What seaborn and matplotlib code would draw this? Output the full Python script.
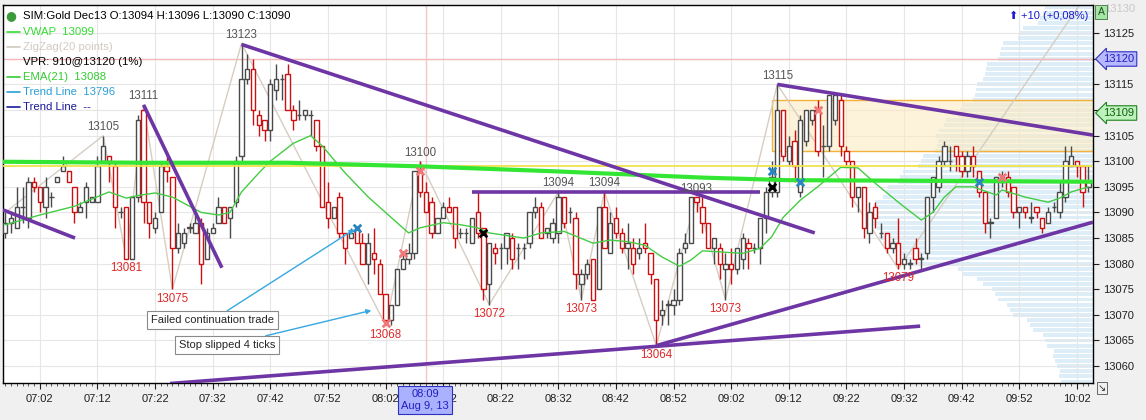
import numpy as np
import pandas as pd
import seaborn as sns
import matplotlib.pyplot as plt
from matplotlib.lines import Line2D
from matplotlib.patches import Rectangle
from matplotlib.ticker import FixedLocator, MultipleLocator, FuncFormatter


def mins(t):
    # minutes after 07:02 (first labelled tick)
    p = [int(v) for v in t.split(':')]
    s = p[2] if len(p) > 2 else 0
    return p[0] * 60 + p[1] + s / 60.0 - (7 * 60 + 2)


# ---- 1-minute bars, 06:56 .. 10:04 ----
first_bar = "06:56"
opens = [13086, 13088, 13087, 13091, 13089, 13096, 13095, 13091, 13093, 13096,
         13098, 13098, 13095, 13090, 13092, 13092, 13092, 13100, 13101, 13099,
         13090, 13091, 13081, 13093, 13110, 13092, 13087, 13090, 13099, 13097,
         13083, 13084, 13087, 13086, 13088, 13081, 13086, 13088, 13091, 13089,
         13092, 13101, 13116, 13118, 13109, 13108, 13106, 13114, 13116, 13117,
         13110, 13109, 13109, 13109, 13108, 13103, 13092, 13089, 13093, 13086,
         13085, 13087, 13084, 13080, 13082, 13080, 13074, 13069, 13072, 13079,
         13081, 13082, 13098, 13094, 13092, 13086, 13089, 13091, 13091, 13086,
         13086, 13084, 13090, 13087, 13076, 13083, 13083, 13083, 13085, 13083,
         13083, 13084, 13090, 13091, 13086, 13085, 13086, 13093, 13090, 13089,
         13076, 13078, 13081, 13075, 13091, 13082, 13089, 13086, 13083, 13083,
         13082, 13084, 13082, 13077, 13070, 13072, 13072, 13073, 13083, 13084,
         13093, 13091, 13088, 13083, 13083, 13079, 13080, 13079, 13081, 13084,
         13083, 13083, 13089, 13094, 13094, 13110, 13100, 13104, 13094, 13104,
         13108, 13110, 13103, 13103, 13108, 13112, 13102, 13100, 13093, 13095,
         13086, 13091, 13086, 13086, 13083, 13084, 13080, 13080, 13083, 13081,
         13082, 13093, 13095, 13100, 13100, 13103, 13101, 13098, 13101, 13098,
         13094, 13088, 13089, 13096, 13097, 13095, 13090, 13091, 13089, 13091,
         13089, 13088, 13091, 13090, 13093, 13099, 13100, 13099, 13095]
highs = [13090, 13090, 13095, 13095, 13097, 13097, 13095, 13097, 13094, 13097,
         13101, 13098, 13095, 13092, 13096, 13093, 13101, 13105, 13101, 13100,
         13091, 13091, 13093, 13109, 13111, 13092, 13090, 13100, 13101, 13097,
         13088, 13087, 13088, 13090, 13089, 13087, 13088, 13093, 13091, 13091,
         13101, 13123, 13121, 13120, 13110, 13108, 13116, 13119, 13117, 13119,
         13111, 13112, 13110, 13110, 13108, 13103, 13096, 13091, 13094, 13086,
         13087, 13087, 13086, 13086, 13087, 13081, 13074, 13072, 13079, 13082,
         13084, 13098, 13100, 13096, 13093, 13089, 13092, 13093, 13091, 13087,
         13087, 13089, 13094, 13087, 13084, 13084, 13084, 13086, 13086, 13084,
         13084, 13090, 13093, 13092, 13087, 13089, 13094, 13093, 13091, 13090,
         13079, 13081, 13081, 13091, 13094, 13090, 13091, 13087, 13088, 13085,
         13085, 13088, 13082, 13077, 13073, 13073, 13075, 13083, 13086, 13093,
         13093, 13093, 13088, 13085, 13084, 13082, 13083, 13083, 13086, 13085,
         13084, 13089, 13095, 13100, 13115, 13110, 13105, 13106, 13109, 13110,
         13110, 13112, 13107, 13113, 13113, 13113, 13103, 13100, 13095, 13095,
         13092, 13092, 13088, 13086, 13085, 13089, 13082, 13081, 13085, 13082,
         13093, 13097, 13101, 13104, 13103, 13103, 13102, 13102, 13103, 13098,
         13094, 13089, 13097, 13098, 13098, 13095, 13091, 13091, 13092, 13091,
         13089, 13091, 13092, 13096, 13103, 13103, 13100, 13099, 13099]
lows = [13085, 13086, 13087, 13088, 13087, 13094, 13090, 13089, 13091, 13096,
        13098, 13096, 13088, 13090, 13089, 13092, 13092, 13100, 13096, 13087,
        13089, 13081, 13081, 13092, 13088, 13085, 13086, 13090, 13096, 13075,
        13082, 13083, 13086, 13086, 13076, 13081, 13086, 13088, 13088, 13085,
        13091, 13100, 13115, 13107, 13105, 13104, 13104, 13112, 13112, 13110,
        13106, 13108, 13108, 13105, 13102, 13091, 13087, 13089, 13085, 13080,
        13085, 13084, 13080, 13076, 13078, 13074, 13068, 13068, 13072, 13079,
        13080, 13081, 13093, 13090, 13085, 13086, 13089, 13090, 13083, 13085,
        13084, 13084, 13085, 13073, 13072, 13080, 13079, 13080, 13079, 13079,
        13081, 13083, 13089, 13085, 13085, 13084, 13084, 13087, 13088, 13075,
        13073, 13077, 13073, 13075, 13083, 13082, 13085, 13082, 13079, 13078,
        13081, 13082, 13076, 13064, 13068, 13068, 13070, 13072, 13082, 13084,
        13090, 13086, 13083, 13080, 13077, 13073, 13076, 13078, 13079, 13079,
        13082, 13080, 13086, 13093, 13093, 13100, 13099, 13096, 13093, 13103,
        13107, 13101, 13097, 13102, 13107, 13101, 13099, 13091, 13090, 13085,
        13084, 13087, 13085, 13082, 13082, 13079, 13079, 13079, 13080, 13079,
        13081, 13090, 13094, 13099, 13098, 13098, 13097, 13097, 13097, 13093,
        13086, 13085, 13089, 13095, 13093, 13089, 13087, 13089, 13088, 13089,
        13086, 13088, 13090, 13089, 13092, 13099, 13097, 13091, 13094]
closes = [13088, 13089, 13091, 13091, 13096, 13095, 13092, 13095, 13093, 13097,
          13099, 13096, 13090, 13091, 13095, 13093, 13099, 13103, 13100, 13091,
          13090, 13081, 13093, 13108, 13092, 13088, 13089, 13099, 13098, 13083,
          13086, 13086, 13087, 13088, 13080, 13086, 13087, 13091, 13088, 13091,
          13100, 13116, 13118, 13110, 13107, 13106, 13115, 13116, 13116, 13110,
          13108, 13109, 13110, 13109, 13103, 13091, 13089, 13091, 13086, 13083,
          13086, 13084, 13080, 13084, 13081, 13074, 13069, 13072, 13079, 13081,
          13082, 13098, 13094, 13090, 13086, 13089, 13091, 13090, 13085, 13086,
          13086, 13089, 13086, 13075, 13084, 13082, 13083, 13086, 13081, 13083,
          13083, 13090, 13091, 13085, 13087, 13088, 13093, 13088, 13090, 13078,
          13078, 13080, 13073, 13091, 13083, 13088, 13086, 13083, 13084, 13080,
          13083, 13083, 13078, 13069, 13071, 13072, 13073, 13082, 13084, 13093,
          13092, 13088, 13083, 13085, 13080, 13080, 13079, 13083, 13085, 13083,
          13083, 13089, 13094, 13097, 13110, 13101, 13103, 13099, 13108, 13110,
          13110, 13102, 13103, 13113, 13113, 13103, 13100, 13093, 13095, 13087,
          13090, 13089, 13086, 13083, 13084, 13080, 13081, 13080, 13081, 13081,
          13093, 13097, 13100, 13103, 13100, 13101, 13098, 13101, 13099, 13094,
          13088, 13088, 13097, 13097, 13094, 13090, 13091, 13090, 13089, 13090,
          13087, 13090, 13091, 13094, 13100, 13101, 13099, 13094, 13096]

# EMA(21)
ema_time = ["06:56", "07:02", "07:08", "07:14", "07:17", "07:19", "07:22", "07:25", "07:30",
            "07:33", "07:35", "07:37", "07:40", "07:42", "07:46", "07:49", "07:51", "07:55",
            "07:59", "08:01", "08:04", "08:06", "08:08", "08:12", "08:15", "08:18", "08:20",
            "08:26", "08:29", "08:33", "08:38", "08:41", "08:44", "08:47", "08:50", "08:53",
            "08:55", "08:57", "09:00", "09:04", "09:07", "09:09", "09:11", "09:14", "09:17",
            "09:21", "09:24", "09:27", "09:31", "09:35", "09:37", "09:39", "09:41", "09:44",
            "09:48", "09:49", "09:53", "09:57", "09:59", "10:01", "10:04"]
ema_value = [13087.6, 13089.5, 13091.2, 13094.0, 13092.8, 13093.3, 13093.8, 13093.0, 13090.0,
             13089.5, 13090.0, 13094.0, 13097.7, 13100.0, 13103.5, 13105.0, 13103.0, 13097.7,
             13093.0, 13091.0, 13088.0, 13086.0, 13087.0, 13088.0, 13087.6, 13087.0, 13086.0,
             13085.0, 13086.0, 13086.3, 13084.0, 13084.6, 13084.3, 13083.6, 13081.3, 13079.5,
             13080.7, 13082.5, 13082.3, 13082.0, 13083.0, 13085.2, 13089.0, 13092.4, 13095.0,
             13098.8, 13098.7, 13095.7, 13092.0, 13088.5, 13090.0, 13093.0, 13095.0, 13095.0,
             13093.4, 13094.4, 13093.0, 13092.0, 13092.8, 13094.0, 13095.0]

# VWAP (thick bright green)
vwap_time = ["06:55", "07:20", "07:45", "08:08", "08:32", "08:57", "09:12", "09:32", "10:05"]
vwap_value = [13099.9, 13099.7, 13099.7, 13099.0, 13098.0, 13096.8, 13096.3, 13096.2, 13096.0]

# ZigZag(20 points) swing points
zz_time = ["06:56", "07:13", "07:17", "07:20", "07:25", "07:37", "08:02", "08:08", "08:20",
           "08:32", "08:36", "08:40", "08:49", "08:56", "09:01", "09:10", "09:31", "10:04"]
zz_price = [13090, 13105, 13081, 13111, 13075, 13123, 13068, 13100, 13072,
            13094, 13073, 13094, 13064, 13093, 13073, 13115, 13079, 13133]

# drawn trend lines (start time, start price, end time, end price)
tl_t0 = ["06:55:36", "07:20", "07:37", "08:17", "09:10", "08:49", "07:24:36"]
tl_p0 = [13090.5, 13111.0, 13122.8, 13094.0, 13115.0, 13064.0, 13056.6]
tl_t1 = ["07:08:06", "07:33:36", "09:16:30", "09:07", "10:04:48", "10:04:48", "09:34:48"]
tl_p1 = [13085.0, 13079.2, 13086.0, 13094.0, 13105.1, 13088.1, 13067.8]

# volume profile, one row per price 13057 .. 13130
vp_prices = list(range(13057, 13131))
vp_volume = [32, 34, 33, 36, 38, 40, 39, 46, 48, 50, 60, 63, 66, 80, 83, 86, 95, 98, 101,
             110, 116, 130, 135, 186, 192, 195, 198, 210, 214, 212, 216, 219, 222, 221, 220,
             218, 210, 207, 205, 195, 193, 190, 175, 172, 170, 158, 156, 155, 157, 154, 149,
             147, 135, 133, 131, 120, 118, 117, 116, 110, 108, 107, 106, 95, 93, 92, 90, 75,
             73, 70, 55, 53, 50, 48]

# value area / levels
va_start, va_low, va_high = "09:09", 13102.0, 13112.0
vpr_level = 13120
yellow_level = 13099
cursor_time = "08:09"

# trade markers
blue_x_t = ["07:57", "09:09", "09:14", "09:45"]
blue_x_p = [13087, 13098, 13096, 13096]
black_x_t = ["08:19", "09:09"]
black_x_p = [13086, 13095]
pink_x_t = ["08:02", "08:05", "08:08", "09:17", "09:49"]
pink_x_p = [13068.5, 13082, 13098, 13110, 13097]

x_lo, x_hi = mins("06:55:36"), mins("10:04:48")
y_lo, y_hi = 13056.7, 13130.5

W, H = 1146, 420
UP, DOWN = '#4a4a4a', '#cc1010'
PURPLE = '#6e35a5'

sns.set_style("white")
plt.rcParams['font.family'] = ['Liberation Sans', 'DejaVu Sans']
plt.rcParams['font.size'] = 8

fig = plt.figure(figsize=(W / 100, H / 100), dpi=100, facecolor='#f0f0f0')
ax = fig.add_axes([3 / W, 37 / H, 1090 / W, 378 / H])

# volume profile on a twin axis growing from the right edge
axv = ax.twiny()
axv.set_zorder(0)
ax.set_zorder(1)
ax.patch.set_visible(False)
axv.patch.set_visible(True)
axv.set_facecolor('white')
axv.barh(vp_prices, vp_volume, height=0.75, color='#ddeef8', linewidth=0)
axv.set_xlim(1090, 0)
axv.xaxis.set_visible(False)
axv.yaxis.set_visible(False)
for s in axv.spines.values():
    s.set_visible(False)

ax.set_xlim(x_lo, x_hi)
ax.set_ylim(y_lo, y_hi)

# grid
ax.xaxis.set_major_locator(FixedLocator(np.arange(0, 181, 10)))
ax.xaxis.set_minor_locator(MultipleLocator(1))
ax.xaxis.set_major_formatter(FuncFormatter(
    lambda v, p: "%02d:%02d" % divmod(int(round(v)) + 7 * 60 + 2, 60)))
ax.yaxis.tick_right()
ax.set_yticks(list(range(13060, 13126, 5)))
ax.grid(True, which='major', color='#e6e6e6', lw=0.8)
ax.set_axisbelow(True)
ax.tick_params(axis='x', which='major', direction='out', length=4, pad=4, labelsize=8, colors='#202020')
ax.tick_params(axis='x', which='minor', direction='out', length=2, color='#404040')
ax.tick_params(axis='y', which='major', direction='out', length=4, pad=3, labelsize=8, colors='#202020')
for s in ax.spines.values():
    s.set_color('black')
    s.set_linewidth(1)

# levels and value area
va_x = mins(va_start)
ax.add_patch(Rectangle((va_x, va_low), x_hi - va_x, va_high - va_low,
                       facecolor='#fde9bd', alpha=0.55, edgecolor='none', zorder=1))
ax.plot([x_hi, va_x, va_x, x_hi], [va_high, va_high, va_low, va_low], color='#f3b13c', lw=1, zorder=2)
ax.axhline(vpr_level, color='#f4b6b6', lw=1, zorder=1)
ax.axvline(mins(cursor_time), color='#f6c6c6', lw=1, zorder=1)

# candles
t = np.arange(len(closes)) + mins(first_bar)
o, h, l, c = map(np.array, (opens, highs, lows, closes))
col = np.where(c >= o, UP, DOWN)
ax.vlines(t, l, h, colors=col, lw=1, zorder=3)
ax.bar(t, np.maximum(np.abs(c - o), 0.06), bottom=np.minimum(o, c), width=0.75,
       color='white', edgecolor=col, linewidth=1, zorder=4)

# zigzag, EMA, VWAP
zz_t = [mins(v) for v in zz_time]
sns.lineplot(x=zz_t, y=zz_price, ax=ax, color='#d6cdc2', lw=1, zorder=2, sort=False)
sns.lineplot(x=[mins(v) for v in ema_time], y=ema_value, ax=ax, color='#44cc44', lw=1, zorder=5)
ax.axhline(yellow_level, color='#efe34a', lw=1.3, zorder=5)
sns.lineplot(x=[mins(v) for v in vwap_time], y=vwap_value, ax=ax, color='#33e633', lw=3, zorder=6)

# trend lines
for a, pa, b, pb in zip(tl_t0, tl_p0, tl_t1, tl_p1):
    ax.plot([mins(a), mins(b)], [pa, pb], color=PURPLE, lw=2.6, zorder=7, solid_capstyle='butt')

# zigzag price labels
for i in range(1, len(zz_price) - 1):
    if zz_price[i] > zz_price[i - 1]:
        ax.text(zz_t[i], zz_price[i] + 0.5, str(zz_price[i]), ha='center', va='bottom',
                color='#555555', fontsize=8.3, zorder=8)
    else:
        ax.text(zz_t[i], zz_price[i] - 0.7, str(zz_price[i]), ha='center', va='top',
                color='#e02828', fontsize=8.3, zorder=8)

# markers
ax.scatter([mins(v) for v in pink_x_t], pink_x_p, marker='x', s=30, lw=2, color='#f07878', zorder=9)
ax.scatter([mins(v) for v in blue_x_t], blue_x_p, marker='x', s=30, lw=2, color='#2a86c0', zorder=9)
ax.scatter([mins(v) for v in black_x_t], black_x_p, marker='x', s=30, lw=2, color='black', zorder=9)

# annotations
box = dict(boxstyle='square,pad=0.35', fc='white', ec='#8a8a8a', lw=0.8)
arrow = dict(arrowstyle='-|>', color='#35a8e0', lw=1, mutation_scale=7, shrinkA=0, shrinkB=2)
ax.annotate("Failed continuation trade", xy=(mins("07:57"), 13087), xytext=(mins("07:32"), 13069),
            ha='center', va='center', fontsize=8, bbox=box, arrowprops=arrow, zorder=10)
ax.annotate("Stop slipped 4 ticks", xy=(mins("08:00"), 13071), xytext=(mins("07:34:30"), 13064.1),
            ha='center', va='center', fontsize=8, bbox=box, arrowprops=arrow, zorder=10)


def fpos(x, y):
    return x / W, 1 - y / H


# legend block top-left
fig.text(*fpos(11, 16), "\u25cf", color='#3c9a3c', fontsize=9, ha='center', va='center',
         family='DejaVu Sans')
legend_rows = [("SIM:Gold Dec13 O:13094 H:13096 L:13090 C:13090", 'black', None),
               ("VWAP  13099", '#33dd33', '#33dd33'),
               ("ZigZag(20 points)", '#d2cac0', '#d2cac0'),
               ("VPR: 910@13120 (1%)", 'black', None),
               ("EMA(21)  13088", '#33cc33', '#33cc33'),
               ("Trend Line  13796", '#2a9fd6', '#2a9fd6'),
               ("Trend Line  --", '#1a1a9a', '#1a1a9a')]
row_y = [16, 32, 47, 62, 77, 92, 107]
for (txt, tc, lc), yy in zip(legend_rows, row_y):
    fig.text(*fpos(23, yy), txt, color=tc, fontsize=8.2, va='center', ha='left')
    if lc:
        fig.add_artist(Line2D([7 / W, 20 / W], [1 - yy / H] * 2, color=lc, lw=1.2,
                              transform=fig.transFigure))

# top-right change
fig.text(*fpos(1013, 16), "\u2b06", color='#1a1acc', fontsize=8, ha='center', va='center',
         family='DejaVu Sans')
fig.text(*fpos(1088, 16), "+10 (+0,08%)", color='#1a1acc', fontsize=8, ha='right', va='center')

# right axis extras
fig.text(*fpos(1104, 9), "13130", color='#c8c8c8', fontsize=8, ha='left', va='center')
fig.text(*fpos(1101, 12), "A", color='#205020', fontsize=7.5, ha='center', va='center',
         bbox=dict(boxstyle='square,pad=0.2', fc='#a6e6a6', ec='#407040', lw=0.6))
fig.text(*fpos(1119, 59), "13120", color='#2020c0', fontsize=8, ha='center', va='center',
         bbox=dict(boxstyle='larrow,pad=0.2', fc='#b8b8ff', ec='#3030c0', lw=0.8))
fig.text(*fpos(1119, 113), "13109", color='#106010', fontsize=8, ha='center', va='center',
         bbox=dict(boxstyle='larrow,pad=0.2', fc='#bdf2bd', ec='#208020', lw=0.8))
fig.text(*fpos(1102, 388), "\u2198", color='#303030', fontsize=7, ha='center', va='center',
         family='DejaVu Sans',
         bbox=dict(boxstyle='square,pad=0.1', fc='#f0f0f0', ec='#505050', lw=0.6))

# cursor date tag
fig.text(*fpos(425, 400), "08:09\nAug 9, 13", color='#2020c0', fontsize=8, ha='center', va='center',
         linespacing=1.2, bbox=dict(boxstyle='square,pad=0.25', fc='#aab2ff', ec='#3030c0', lw=0.8),
         zorder=20)

fig.savefig("out.png", dpi=100, facecolor=fig.get_facecolor())
